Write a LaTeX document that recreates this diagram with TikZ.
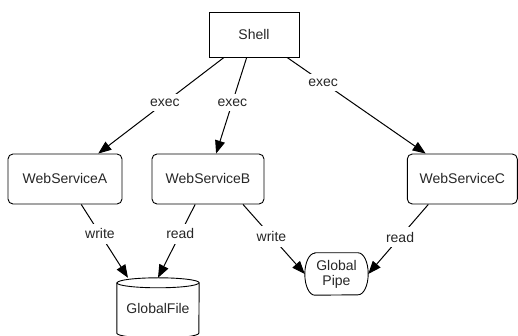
\documentclass[tikz,border=0pt]{standalone}
\usepackage{fontspec}
\setmainfont{Liberation Sans}
\usetikzlibrary{arrows.meta}

\begin{document}
\begin{tikzpicture}[x=1pt,y=1pt,
  every node/.style={font=\fontsize{14}{15}\selectfont, text=black!85},
  plainbox/.style={draw, line width=0.9pt, inner sep=0pt},
  svc/.style={draw, line width=0.9pt, rounded corners=5pt, minimum height=50pt, inner sep=0pt},
  shapeline/.style={draw, line width=0.9pt},
  arr/.style={line width=1pt, -{Triangle[length=13pt,width=10pt]}},
  lbl/.style={fill=white, inner xsep=2pt, inner ysep=5pt}]

\useasboundingbox (0,0) rectangle (518,336);

% processes
\node[plainbox, minimum width=90pt, minimum height=45pt] (shell) at (254,301.5) {Shell};
\node[svc, minimum width=114pt] (wsa) at (65,157) {WebServiceA};
\node[svc, minimum width=112pt] (wsb) at (208,157) {WebServiceB};
\node[svc, minimum width=110pt] (wsc) at (462.3,157) {WebServiceC};

% shared file (cylinder)
\node[minimum width=82pt, minimum height=60pt, inner sep=0pt] (file) at (158,28) {GlobalFile};
\draw[shapeline] ([yshift=-5pt]file.north west) -- ([yshift=5pt]file.south west)
  arc[start angle=180, end angle=360, x radius=41pt, y radius=5pt]
  -- ([yshift=-5pt]file.north east)
  arc[start angle=0, end angle=180, x radius=41pt, y radius=5pt] -- cycle;
\draw[shapeline] ([yshift=-5pt]file.north west)
  arc[start angle=180, end angle=360, x radius=41pt, y radius=5pt];

% shared pipe
\node[minimum width=63pt, minimum height=42pt, inner sep=0pt, align=center] (pipe) at (336.5,62) {Global\\Pipe};
\draw[shapeline] ([xshift=10pt]pipe.north west) -- ([xshift=-10pt]pipe.north east)
  arc[start angle=90, end angle=-90, x radius=10pt, y radius=21pt]
  -- ([xshift=10pt]pipe.south west)
  arc[start angle=270, end angle=90, x radius=10pt, y radius=21pt] -- cycle;

% connectors
\draw[arr] (shell) -- node[lbl, pos=0.47] {exec} (wsa);
\draw[arr] (shell) -- node[lbl, pos=0.47] {exec} (wsb);
\draw[arr] (shell) -- node[lbl, pos=0.26] {exec} (wsc);
\draw[arr] (wsa) -- node[lbl, pos=0.4] {write} ([xshift=-30pt]file.north);
\draw[arr] (wsb) -- node[lbl, pos=0.4] {read} (file.north);
\draw[arr] ([xshift=35pt]wsb.south) -- node[lbl, pos=0.46] {write} (pipe.west);
\draw[arr] ([xshift=-34pt]wsc.south) -- node[lbl, pos=0.47] {read} (pipe.east);
\end{tikzpicture}
\end{document}
